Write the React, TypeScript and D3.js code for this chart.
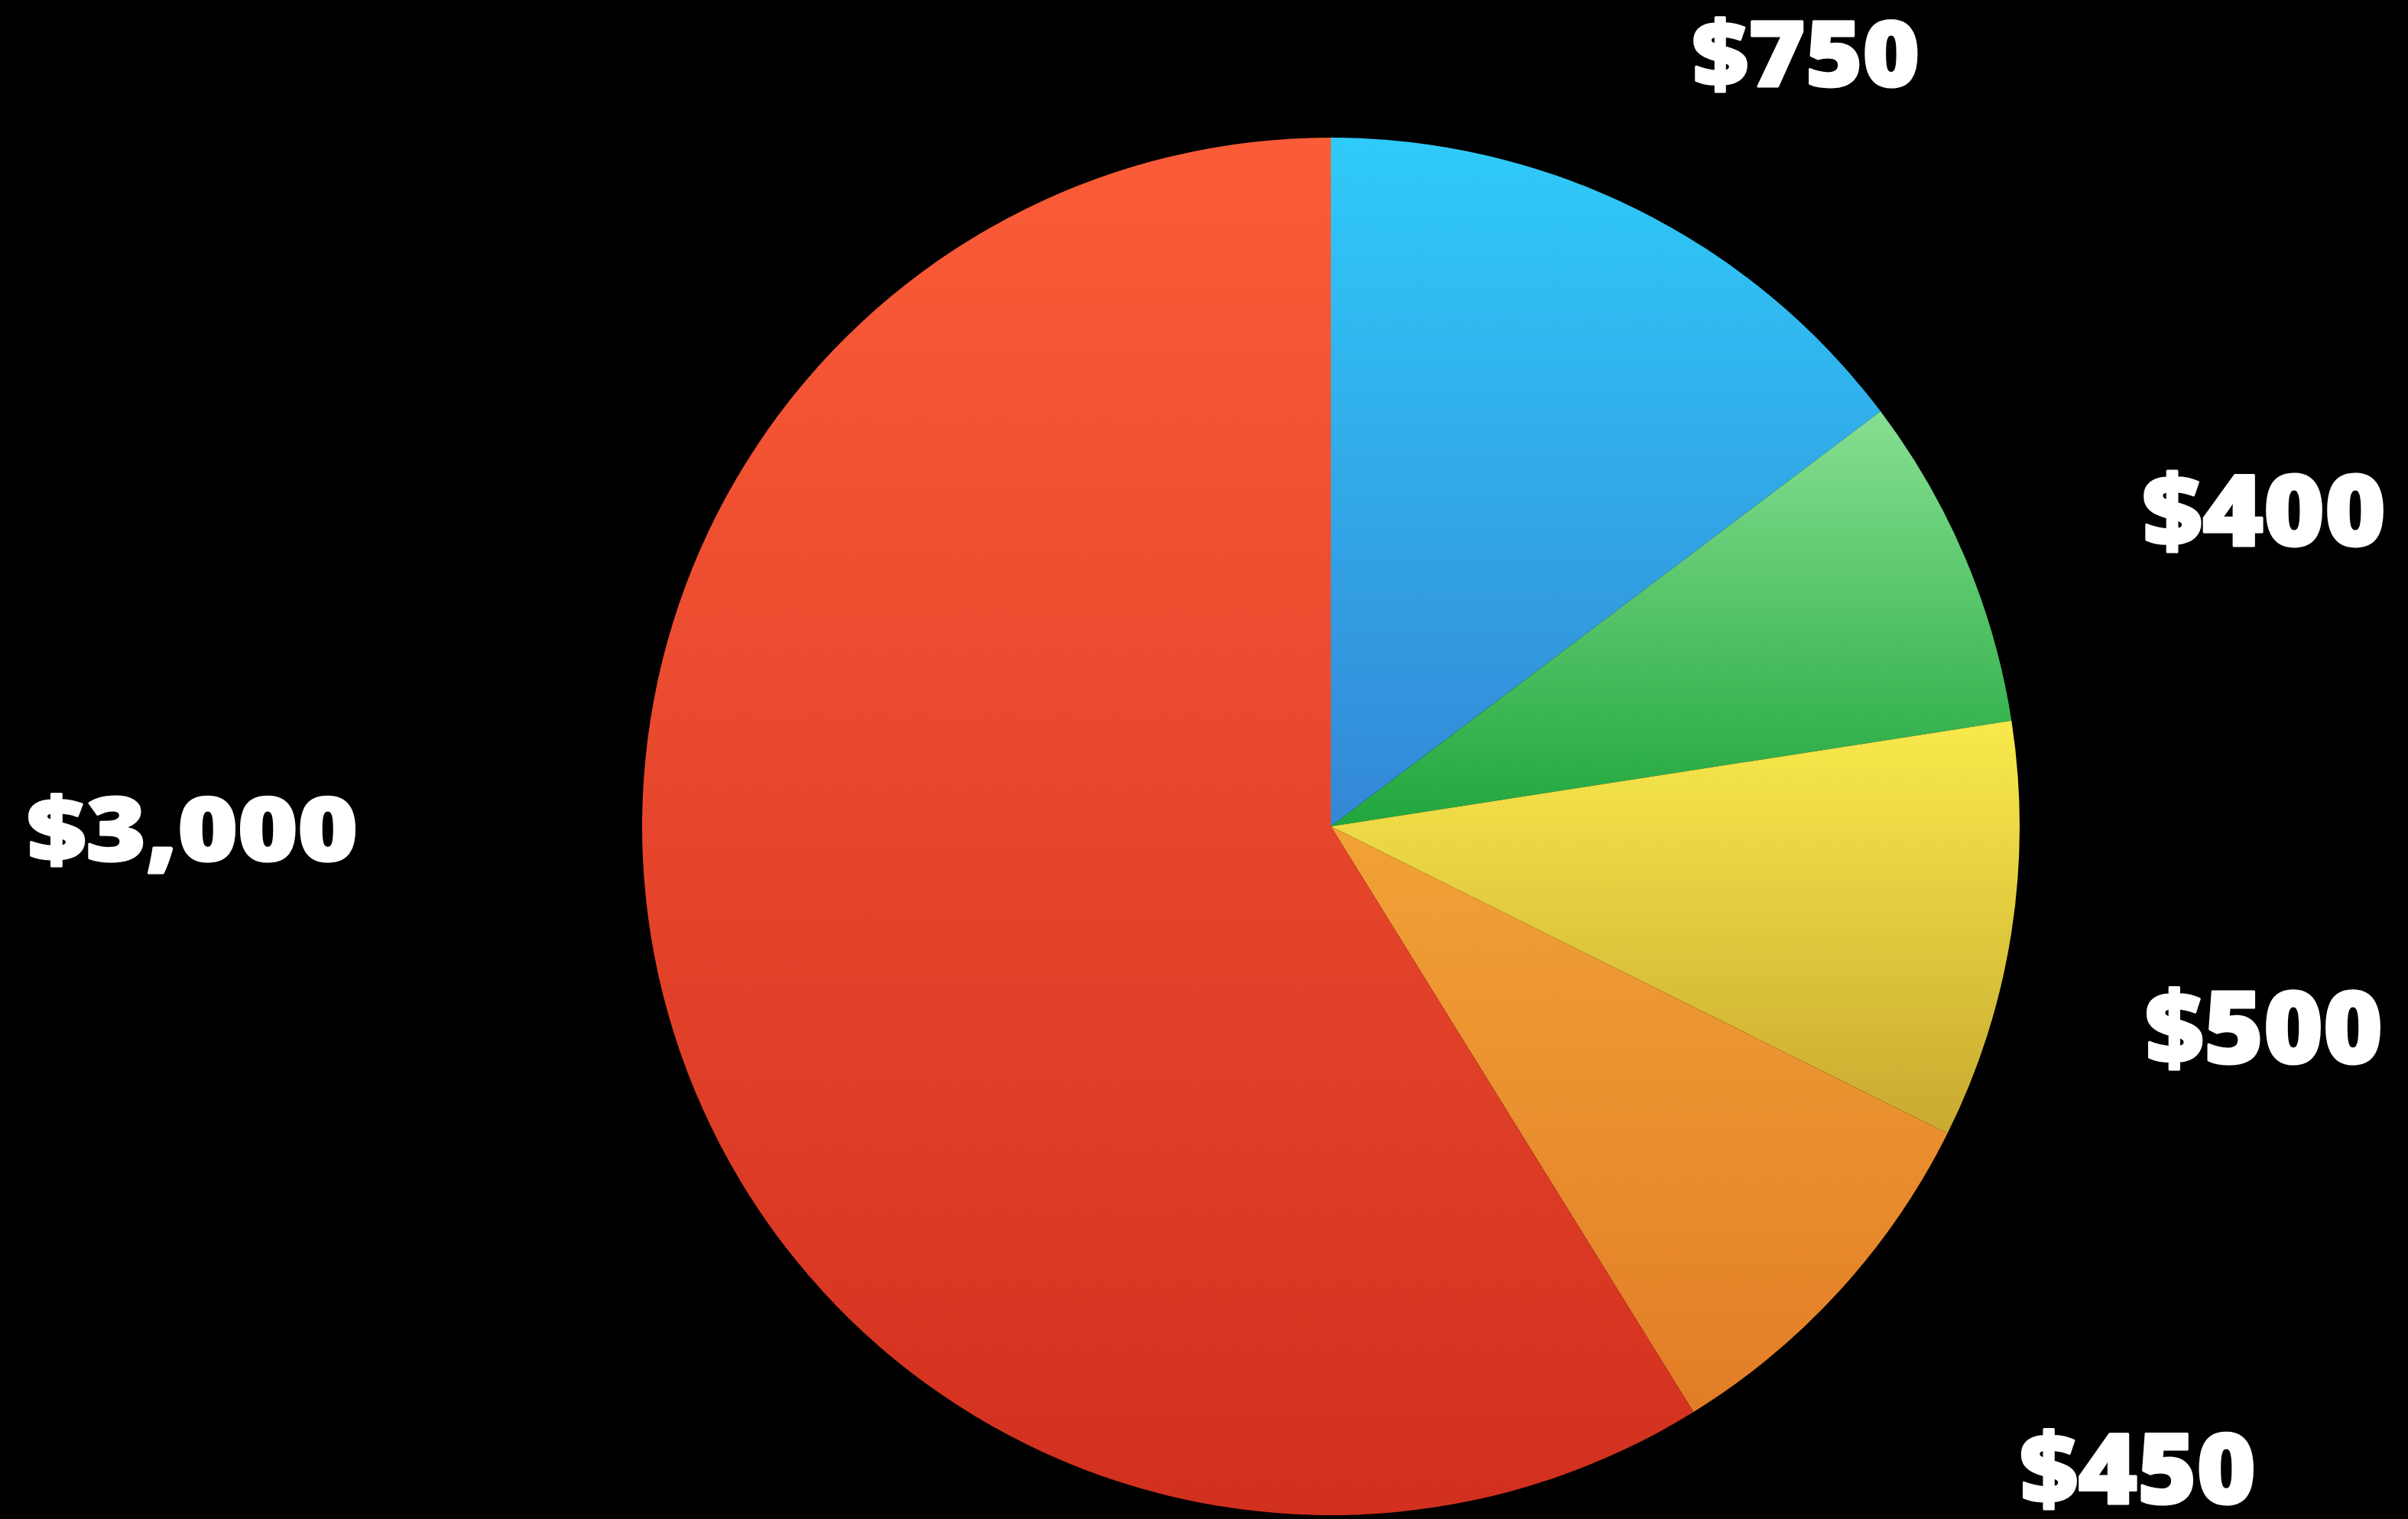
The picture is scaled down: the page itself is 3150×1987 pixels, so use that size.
import React, { useMemo } from "react";
import * as d3 from "d3";

const categories = ["A", "B", "C", "D", "E"];
const values = [750, 400, 500, 450, 3000];
const labels = ["$750", "$400", "$500", "$450", "$3,000"];
const gradTop = ["#2fcbf9", "#86df91", "#f9e94c", "#f1a236", "#fb5c38"];
const gradBottom = ["#3487d6", "#20a63c", "#c8aa30", "#e27d27", "#d2301f"];
// label layout: angle (deg, clockwise from top), distance factor (x radius), font size, width
const labelAngle = [31.5, 71.1, 102, 128.4, 270];
const labelDist = [1.32, 1.432, 1.385, 1.495, 1.653];
const labelSize = [119, 130, 132, 127, 116];
const labelWidth = [298, 319, 311, 309, 433];

const W = 3150;
const H = 1987;
const CX = 1741;
const CY = 1081;
const R = 901;

export default function App() {
  const arcs = useMemo(
    () => d3.pie<number>().sort(null).value((d) => d)(values),
    []
  );
  const arcGen = d3.arc<d3.PieArcDatum<number>>().innerRadius(0).outerRadius(R);

  return (
    <svg
      width={W}
      height={H}
      style={{ position: "absolute", left: 0, top: 0, display: "block" }}
    >
      <defs>
        {categories.map((c, i) => (
          <linearGradient key={c} id={`g${i}`} x1="0" y1="0" x2="0" y2="1">
            <stop offset="0" stopColor={gradTop[i]} />
            <stop offset="1" stopColor={gradBottom[i]} />
          </linearGradient>
        ))}
      </defs>
      <rect x={0} y={0} width={W} height={H} fill="#000" />
      <g transform={`translate(${CX},${CY})`}>
        {arcs.map((a, i) => (
          <path key={categories[i]} d={arcGen(a) || ""} fill={`url(#g${i})`} />
        ))}
        {arcs.map((a, i) => {
          const ang = (labelAngle[i] * Math.PI) / 180;
          const r = R * labelDist[i];
          const x = Math.sin(ang) * r;
          const y = -Math.cos(ang) * r;
          return (
            <text
              key={"l" + categories[i]}
              x={x - labelWidth[i] / 2}
              y={y}
              textLength={labelWidth[i]}
              lengthAdjust="spacingAndGlyphs"
              dominantBaseline="central"
              fill="#fff"
              stroke="#fff"
              strokeWidth={3}
              strokeLinejoin="round"
              fontFamily="'Open Sans', sans-serif"
              fontWeight={800}
              fontSize={labelSize[i]}
            >
              {labels[i]}
            </text>
          );
        })}
      </g>
    </svg>
  );
}
